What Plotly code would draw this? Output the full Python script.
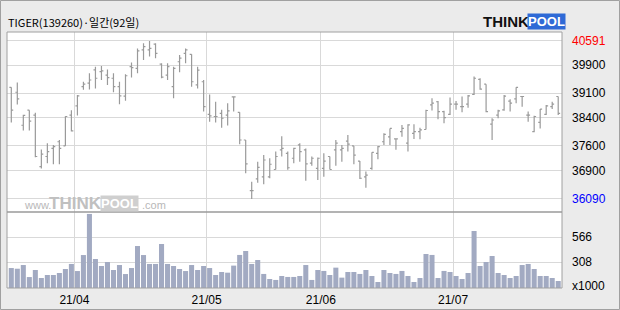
import plotly.graph_objects as go

# ---- data ----
x_labels = ["21/04", "21/05", "21/06", "21/07"]
month_start_idx = [11, 33, 52, 74]          # first trading day index of each month
price_ticks = [40591, 39900, 39100, 38400, 37600, 36900, 36090]
volume_ticks = [566, 308]

open_ = [39270, 39130, 38190, 38620, 38480, 37010, 37300, 37530, 37720, 37600,
         38480, 38740, 39290, 39390, 39770, 39720, 39620, 39530, 39290, 39020,
         39860, 39810, 40340, 40340, 40500, 39930, 39620, 39290, 40000, 40240,
         40210, 39340, 39430, 38500, 38440, 38530, 38480, 39000, 38560, 37770,
         36330, 36660, 36720, 36720, 36930, 37490, 37390, 37250, 37630, 37490,
         37110, 36960, 36960, 37300, 37490, 37490, 37740, 37600, 37170, 36720,
         36960, 37390, 37720, 37860, 37800, 38010, 37680, 37960, 38010, 38070,
         38770, 38860, 38580, 38500, 38790, 38720, 38790, 39070, 39500, 39360,
         38220, 38480, 38630, 38880, 38940, 39010, 38480, 38010, 38270, 38500,
         38720, 39010]
high = [39270, 39410, 38490, 38620, 38550, 37500, 37680, 37630, 37770, 38450,
        38620, 39050, 39430, 39670, 39860, 39880, 39780, 39670, 39430, 39640,
        39980, 40380, 40530, 40591, 40530, 39960, 39960, 39860, 40190, 40380,
        40210, 39860, 39480, 39070, 38860, 38630, 38820, 39020, 38560, 37770,
        36580, 37150, 37340, 37250, 37440, 37880, 37440, 37550, 37680, 37530,
        37300, 37270, 37390, 37300, 37770, 37630, 37910, 37600, 37170, 36870,
        37420, 37600, 37960, 38100, 37820, 38200, 38220, 38220, 38120, 38630,
        38960, 38880, 38600, 38980, 38880, 39010, 39050, 39580, 39530, 39360,
        38390, 38630, 39050, 38930, 39270, 39020, 38580, 38460, 38650, 38770,
        38860, 39010]
low = [38270, 38780, 38040, 38040, 37280, 36960, 37110, 37080, 37080, 37600,
       38010, 38470, 39200, 39210, 39240, 39480, 39340, 39130, 38790, 38890,
       39550, 39670, 40050, 40150, 40100, 39530, 39480, 38960, 39700, 39960,
       39290, 39240, 38580, 38290, 38270, 38120, 38180, 38580, 37650, 36820,
       36090, 36550, 36510, 36680, 36930, 37300, 36920, 37110, 37150, 36610,
       37040, 36630, 36720, 36930, 37040, 37150, 37440, 37080, 36660, 36410,
       36920, 37220, 37630, 37630, 37490, 37860, 37440, 37800, 37790, 38070,
       38610, 38360, 38250, 38480, 38630, 38560, 38690, 39050, 39200, 38560,
       37770, 38390, 38600, 38580, 38820, 38720, 38290, 37990, 38100, 38480,
       38650, 38480]
close = [38620, 38940, 38470, 38310, 37300, 37370, 37440, 37580, 37530, 38440,
         38030, 39030, 39360, 39480, 39530, 39740, 39550, 39290, 39030, 39600,
         39830, 40310, 40430, 40380, 40240, 39560, 39860, 39810, 40100, 40340,
         39430, 39760, 38720, 38460, 38440, 38390, 38600, 39000, 37770, 37090,
         36330, 36990, 37200, 37080, 37300, 37530, 36980, 37530, 37440, 37090,
         37250, 37250, 37170, 36930, 37680, 37530, 37650, 37340, 36680, 36770,
         37420, 37580, 37930, 38100, 37800, 38100, 38200, 38010, 38060, 38610,
         38820, 38580, 38410, 38790, 38790, 38720, 39030, 39530, 39220, 38580,
         38340, 38600, 39020, 38820, 39270, 39010, 38480, 38440, 38650, 38740,
         38790, 38530]
volume = [249, 242, 280, 156, 229, 146, 177, 177, 198, 239,
          291, 218, 383, 807, 342, 270, 311, 229, 280, 187,
          249, 476, 383, 291, 291, 497, 291, 270, 239, 218,
          280, 229, 270, 249, 177, 208, 201, 274, 384, 425,
          291, 332, 188, 136, 126, 167, 157, 157, 167, 280,
          126, 229, 219, 177, 253, 150, 208, 208, 188, 229,
          167, 105, 229, 198, 188, 219, 167, 105, 146, 394,
          384, 146, 219, 208, 167, 136, 198, 631, 270, 311,
          373, 198, 177, 146, 167, 280, 291, 239, 167, 167,
          146, 115]

idx = list(range(len(close)))

# ---- geometry helpers (pixel -> paper) ----
W, H = 620, 310
L, R, T, B = 7, 58, 32, 22
PW, PH = W - L - R, H - T - B
def px(x):
    return (x - L) / PW
def py(y):
    return (H - B - y) / PH
split = py(212)

GRID = "#d9d9d9"
FONT = "Liberation Sans"

fig = go.Figure()
fig.add_trace(go.Ohlc(
    x=idx, open=open_, high=high, low=low, close=close,
    increasing_line_color="#9a9a9a", decreasing_line_color="#9a9a9a",
    line_width=1.2, tickwidth=0.32, xaxis="x", yaxis="y", hoverinfo="skip",
))
fig.add_trace(go.Bar(
    x=idx, y=volume, marker_color="#a2aac2", marker_line_width=0,
    width=0.84, xaxis="x", yaxis="y2", hoverinfo="skip",
))

fig.update_layout(
    width=W, height=H, margin=dict(l=L, r=R, t=T, b=B, pad=0, autoexpand=False),
    paper_bgcolor="#ebebeb", plot_bgcolor="#ffffff", showlegend=False,
    xaxis=dict(
        range=[-0.715, 91.63], anchor="y2", automargin=False,
        tickmode="array", tickvals=[i - 0.5 for i in month_start_idx], ticktext=x_labels,
        showgrid=True, gridcolor=GRID, gridwidth=1, zeroline=False, showline=False,
        ticks="", rangeslider=dict(visible=False), ticklabelstandoff=3,
        tickfont=dict(family=FONT, size=12, color="#000"),
    ),
    yaxis=dict(
        domain=[split, 1], range=[35719, 40847], automargin=False,
        tickmode="array", tickvals=price_ticks, showticklabels=False,
        showgrid=True, gridcolor=GRID, gridwidth=1, zeroline=False, showline=False,
    ),
    yaxis2=dict(
        domain=[0, split], range=[43, 827], automargin=False,
        tickmode="array", tickvals=volume_ticks, showticklabels=False,
        showgrid=True, gridcolor=GRID, gridwidth=1, zeroline=False, showline=False,
    ),
)

shapes = [
    # outer frame
    dict(type="rect", xref="paper", yref="paper",
         x0=px(0.5), x1=px(619.5), y0=py(309.5), y1=py(0.5),
         line=dict(color="#a0a0a0", width=1), layer="below"),
    # plot border
    dict(type="rect", xref="paper", yref="paper", x0=0, x1=1, y0=0, y1=1,
         line=dict(color="#a0a0a0", width=1)),
    # panel separator
    dict(type="line", xref="paper", yref="paper", x0=0, x1=1, y0=split, y1=split,
         line=dict(color="#9a9a9a", width=1.5)),
]
fig.update_layout(shapes=shapes)

ann = []
# title
ann.append(dict(text="TIGER(139260)·일간(92일)", xref="paper", yref="paper",
                x=px(6), y=py(22), xanchor="left", yanchor="middle", showarrow=False,
                font=dict(family="Noto Sans CJK KR", size=11, color="#000")))
# logo
ann.append(dict(text="<b>THINK</b>", xref="paper", yref="paper",
                x=px(481), y=py(21), xanchor="left", yanchor="middle", showarrow=False,
                font=dict(family=FONT, size=15, color="#111")))
ann.append(dict(text="<b>POOL</b>", xref="paper", yref="paper",
                x=px(527), y=py(21), xanchor="left", yanchor="middle", showarrow=False,
                bgcolor="#2f6ad6", borderpad=0,
                font=dict(family=FONT, size=13, color="#fff")))
# watermark
ann.append(dict(text="www.", xref="paper", yref="paper",
                x=px(22), y=py(205), xanchor="left", yanchor="middle", showarrow=False,
                font=dict(family=FONT, size=11, color="#b8b8b8")))
ann.append(dict(text="<b>THINK</b>", xref="paper", yref="paper",
                x=px(47), y=py(203), xanchor="left", yanchor="middle", showarrow=False,
                font=dict(family=FONT, size=17, color="#c0c0c0")))
ann.append(dict(text="<b>POOL</b>", xref="paper", yref="paper",
                x=px(100), y=py(203), xanchor="left", yanchor="middle", showarrow=False,
                bgcolor="#cfcfcf", borderpad=0,
                font=dict(family=FONT, size=13, color="#ffffff")))
ann.append(dict(text=".com", xref="paper", yref="paper",
                x=px(140), y=py(205), xanchor="left", yanchor="middle", showarrow=False,
                font=dict(family=FONT, size=11, color="#b8b8b8")))

# right-side price labels
for v in price_ticks:
    col = "#000"
    if v == max(price_ticks):
        col = "#ff0000"
    elif v == min(price_ticks):
        col = "#0000ff"
    ann.append(dict(text=str(v), xref="paper", yref="y", x=1, y=v,
                    xanchor="left", yanchor="middle", xshift=8, showarrow=False,
                    font=dict(family=FONT, size=12, color=col)))
for v in volume_ticks:
    ann.append(dict(text=str(v), xref="paper", yref="y2", x=1, y=v,
                    xanchor="left", yanchor="middle", xshift=8, showarrow=False,
                    font=dict(family=FONT, size=12, color="#000")))
ann.append(dict(text="x1000", xref="paper", yref="paper", x=1, y=py(286),
                xanchor="left", yanchor="middle", xshift=8, showarrow=False,
                font=dict(family=FONT, size=12, color="#000")))
fig.update_layout(annotations=ann)

fig.write_html("out.html")
